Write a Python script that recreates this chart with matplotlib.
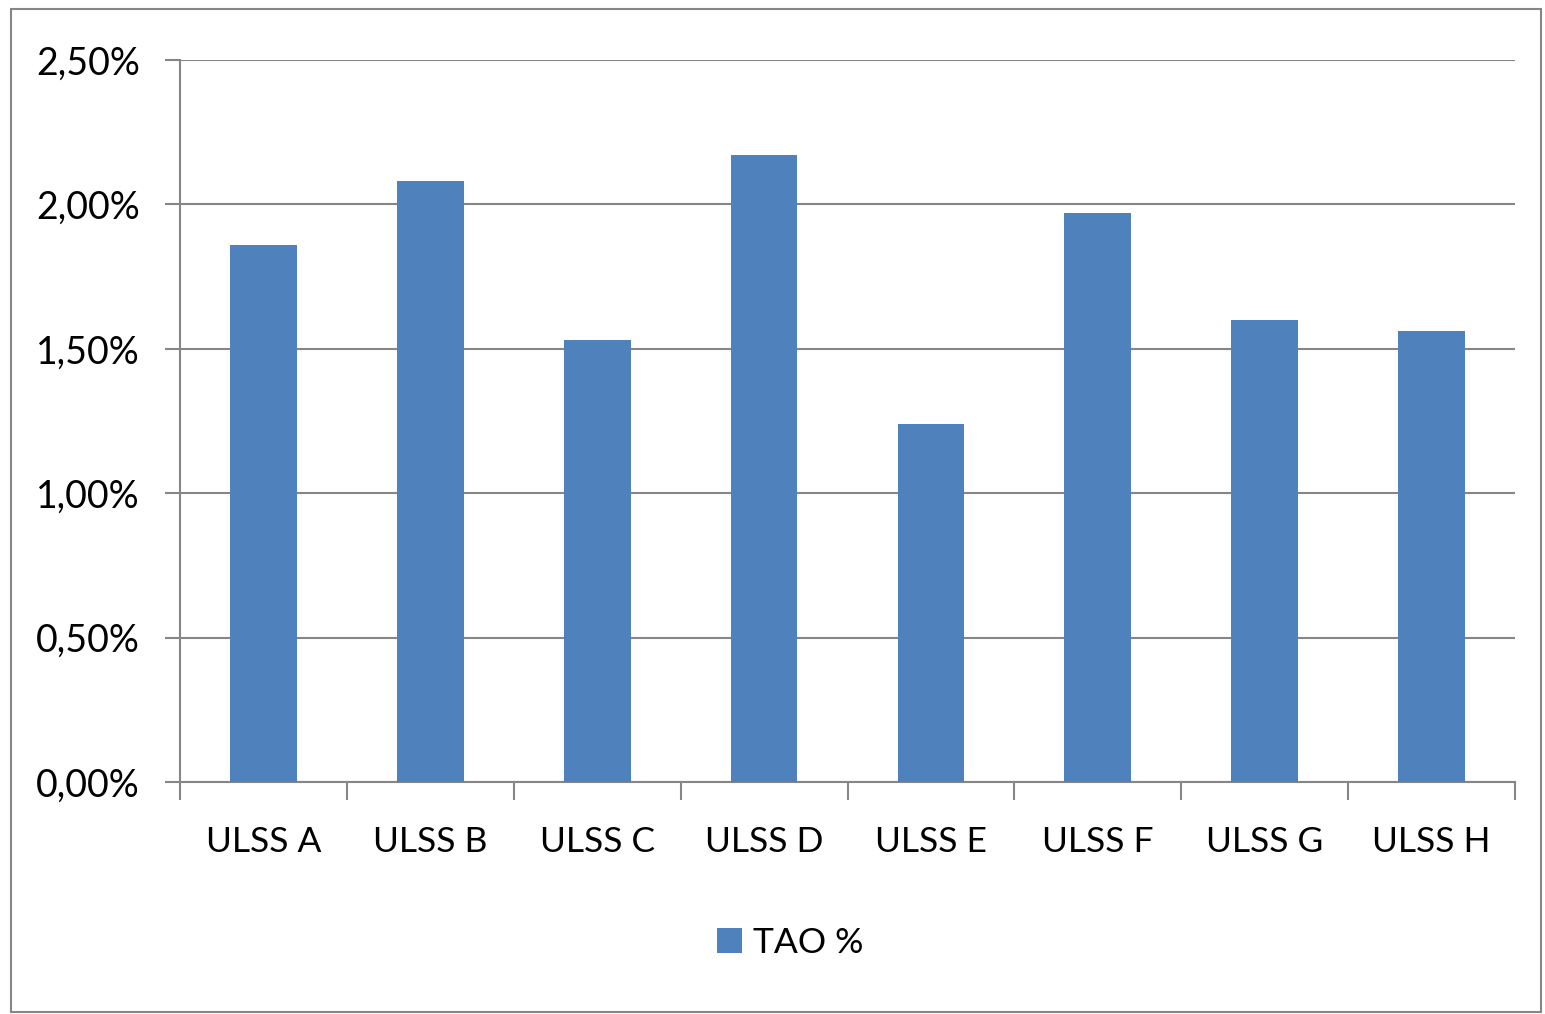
import matplotlib
matplotlib.use("Agg")
import matplotlib.pyplot as plt
from matplotlib.ticker import FixedLocator, FuncFormatter
from matplotlib.patches import Rectangle

categories = ["ULSS A", "ULSS B", "ULSS C", "ULSS D", "ULSS E", "ULSS F", "ULSS G", "ULSS H"]
tao = [1.86, 2.08, 1.53, 2.17, 1.24, 1.97, 1.60, 1.56]
yticks = [0.0, 0.5, 1.0, 1.5, 2.0, 2.5]
series_name = "TAO %"

plt.rcParams['font.family'] = ['Lato', 'DejaVu Sans']

fig = plt.figure(figsize=(15.45, 10.14), dpi=100)
ax = fig.add_axes([180/1545, 1-782/1014, (1515-180)/1545, (782-60)/1014])

x = list(range(len(categories)))
ax.bar(x, tao, width=0.4, color="#4F81BD", label=series_name, zorder=3)

ax.set_xlim(-0.5, len(categories) - 0.5)
ax.set_ylim(0, 2.5)
ax.set_yticks(yticks)
ax.yaxis.set_major_formatter(FuncFormatter(lambda v, p: f"{v:.2f}%".replace(".", ",")))
ax.grid(axis='y', color="#868686", linewidth=1.5, zorder=0)

ax.set_xticks(x)
ax.set_xticklabels(categories)
ax.xaxis.set_minor_locator(FixedLocator([i - 0.5 for i in range(len(categories) + 1)]))
ax.tick_params(axis='x', which='major', length=0, pad=32, labelsize=25.5)
ax.tick_params(axis='x', which='minor', length=13, width=1.5, color="#868686", direction='out')
ax.tick_params(axis='y', which='major', length=11, width=1.5, color="#868686", pad=18, labelsize=27)

for s in ["top", "right"]:
    ax.spines[s].set_visible(False)
for s in ["left", "bottom"]:
    ax.spines[s].set_color("#868686")
    ax.spines[s].set_linewidth(1.5)

fig.legend(loc="center", bbox_to_anchor=(790/1545, 1-943/1014), frameon=False,
           fontsize=25.5, handlelength=0.7, handleheight=0.7, handletextpad=0.3)

fig.patches.append(Rectangle((11/1545, 1-1012/1014), (1541-11)/1545, (1012-9)/1014,
                             transform=fig.transFigure, fill=False,
                             edgecolor="#868686", linewidth=1.5))

fig.savefig("out.png", dpi=100)
